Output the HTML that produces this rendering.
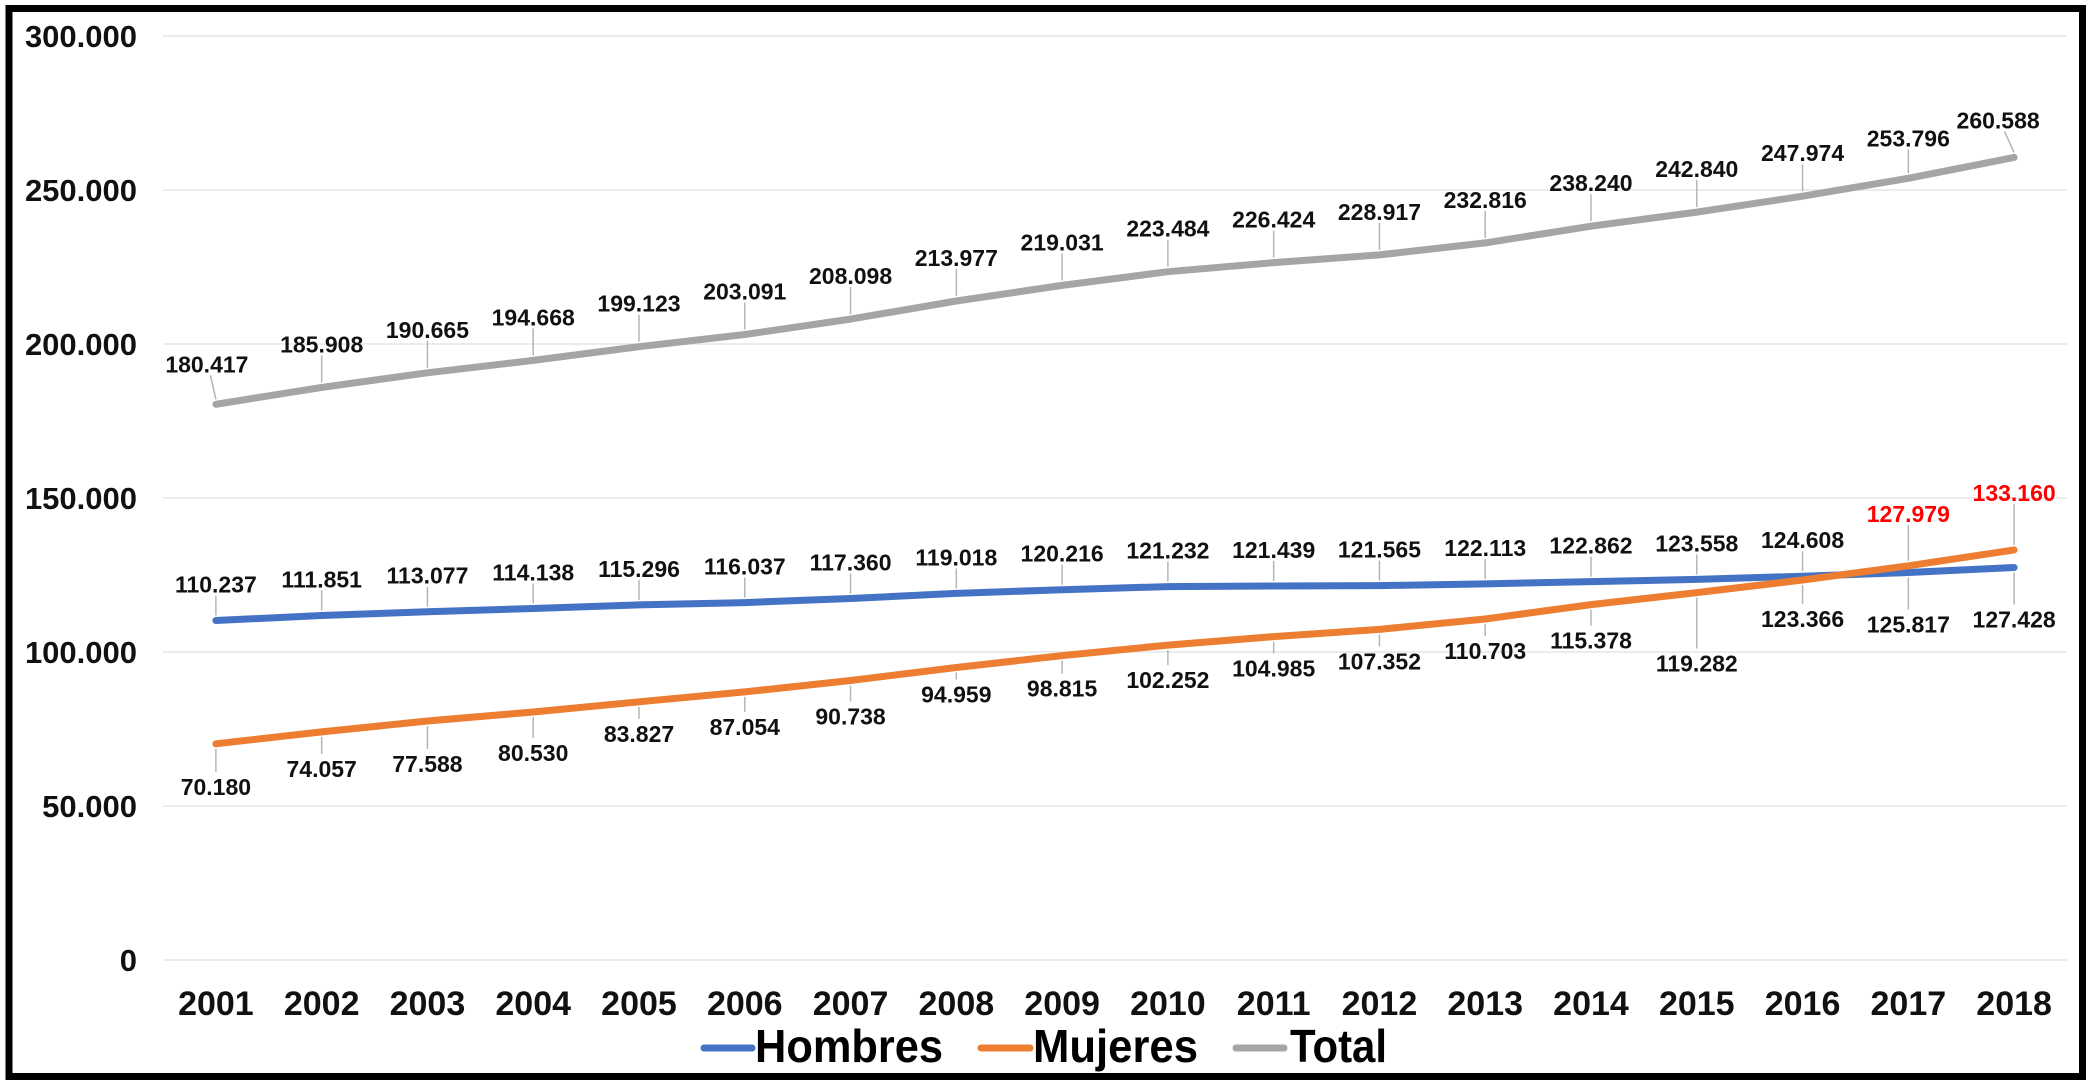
<!DOCTYPE html>
<html><head><meta charset="utf-8"><style>
html,body{margin:0;padding:0;background:#fff;}
svg{display:block;font-family:"Liberation Sans",Arial,sans-serif;font-weight:bold;}
</style></head><body>
<svg id="chart" width="2091" height="1086" viewBox="0 0 2091 1086" xmlns="http://www.w3.org/2000/svg">
<rect x="0" y="0" width="2091" height="1086" fill="#fff"/>
<rect x="9" y="8.5" width="2073.5" height="1068" fill="none" stroke="#000" stroke-width="7"/>
<g id="grid"></g>
<g id="yticks"></g>
<g id="xticks"></g>
<g id="series"></g>
<g id="labels"></g>
<g id="legend">
  <line x1="704" y1="1048" x2="752" y2="1048" stroke="#4472C4" stroke-width="7" stroke-linecap="round"/>
  <text x="755" y="1062" font-size="46" textLength="188" lengthAdjust="spacingAndGlyphs">Hombres</text>
  <line x1="981" y1="1048" x2="1030" y2="1048" stroke="#ED7D31" stroke-width="7" stroke-linecap="round"/>
  <text x="1033" y="1062" font-size="46" textLength="165" lengthAdjust="spacingAndGlyphs">Mujeres</text>
  <line x1="1236" y1="1048" x2="1284" y2="1048" stroke="#A5A5A5" stroke-width="7" stroke-linecap="round"/>
  <text x="1290" y="1062" font-size="46" textLength="97" lengthAdjust="spacingAndGlyphs">Total</text>
</g>
</svg>
<script>
const categories = ["2001","2002","2003","2004","2005","2006","2007","2008","2009","2010","2011","2012","2013","2014","2015","2016","2017","2018"];
const hombres = [110237,111851,113077,114138,115296,116037,117360,119018,120216,121232,121439,121565,122113,122862,123558,124608,125817,127428];
const mujeres = [70180,74057,77588,80530,83827,87054,90738,94959,98815,102252,104985,107352,110703,115378,119282,123366,127979,133160];
const total = [180417,185908,190665,194668,199123,203091,208098,213977,219031,223484,226424,228917,232816,238240,242840,247974,253796,260588];
const yTicks = [0,50000,100000,150000,200000,250000,300000];
const yTickLabels = ["0","50.000","100.000","150.000","200.000","250.000","300.000"];

// layout (styling only)
const plotL = 163, plotR = 2067, y0 = 960, yTop = 36, yMax = 300000;
const hombresDy = [-36,-36,-36,-36,-36,-36,-36,-36,-36,-36,-36,-36,-36,-36,-36,-36,52,52];
const mujeresDy = [43,37,43,41,32,35,36,27,33,35,32,32,32,36,71,39,-52,-57];
const totalDy = [-40,-43,-43,-43,-43,-43,-43,-43,-43,-43,-43,-43,-43,-43,-43,-43,-40,-37];
const totalDx = [-9,0,0,0,0,0,0,0,0,0,0,0,0,0,0,0,0,-16];

const NS = "http://www.w3.org/2000/svg";
const step = (plotR - plotL) / categories.length;
function xPos(i){ return plotL + step * (i + 0.5); }
function yPos(v){ return y0 - (v / yMax) * (y0 - yTop); }
function fmt(v){ return v.toString().replace(/\B(?=(\d{3})+(?!\d))/g, "."); }
function mk(tag, attrs, parent){ const e = document.createElementNS(NS, tag); for (const k in attrs) e.setAttribute(k, attrs[k]); parent.appendChild(e); return e; }

const grid = document.getElementById("grid");
const yt = document.getElementById("yticks");
yTicks.forEach((t, i) => {
  const l = mk("line", {x1: plotL, x2: plotR, y1: yPos(t), y2: yPos(t), stroke: "#e6e6e6", "stroke-width": 1.5}, grid);
  
  
  const tx = mk("text", {x: 137, y: yPos(t) + 11, "font-size": 31, "text-anchor": "end", fill: "#111"}, yt);
  tx.textContent = yTickLabels[i];
  
  
});

const xt = document.getElementById("xticks");
categories.forEach((c, i) => {
  const tx = mk("text", {x: xPos(i), y: 1015, "font-size": 34, "text-anchor": "middle", fill: "#111"}, xt);
  tx.textContent = c;
  
  
});

const ser = document.getElementById("series");
const lab = document.getElementById("labels");
function drawSeries(vals, color, name, dys, dxs, colorFn){
  const pts = vals.map((v, i) => xPos(i).toFixed(1) + "," + yPos(v).toFixed(1)).join(" ");
  const pl = mk("polyline", {points: pts, fill: "none", stroke: color, "stroke-width": 7, "stroke-linecap": "round", "stroke-linejoin": "round"}, ser);
  
  
  vals.forEach((v, i) => {
    const px = xPos(i), py = yPos(v);
    const dy = dys[i], dx = dxs ? dxs[i] : 0;
    const ly = py + dy;
    const edge = dy < 0 ? ly + 11 : ly - 15;
    const lead = dy < 0 ? py - 5 : py + 5;
    if (Math.abs(edge - lead) > 6) {
      const ln = mk("line", {x1: px + dx * 0.6, y1: edge, x2: px, y2: lead, stroke: "#b5b5b5", "stroke-width": 1.5}, lab);
      
      
    }
    const tx = mk("text", {x: px + dx, y: ly + 8, "font-size": 23, "text-anchor": "middle", fill: colorFn ? colorFn(i) : "#111"}, lab);
    tx.textContent = fmt(v);
    
    
  });
}
drawSeries(total, "#A5A5A5", "total", totalDy, totalDx);
drawSeries(hombres, "#4472C4", "hombres", hombresDy, null);
drawSeries(mujeres, "#ED7D31", "mujeres", mujeresDy, null, i => i >= 16 ? "#FF0000" : "#111");
</script>
</body></html>
